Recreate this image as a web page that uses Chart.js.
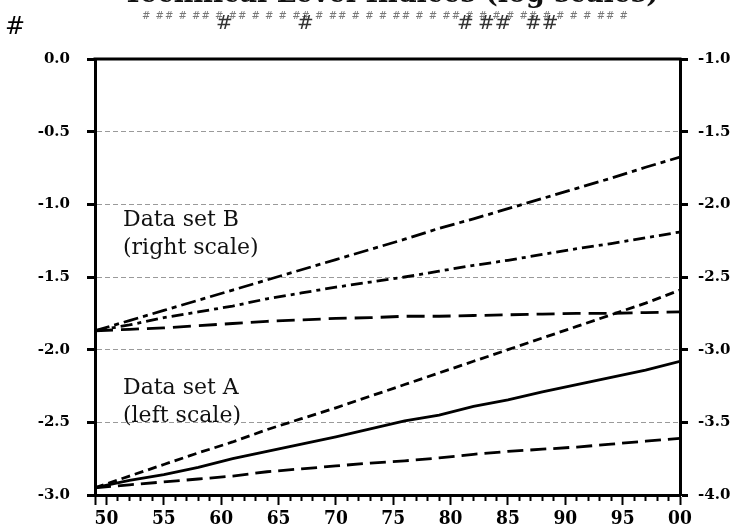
<!DOCTYPE html>
<html>
<head>
<meta charset="utf-8">
<script src="https://cdn.jsdelivr.net/npm/chart.js@4.4.1/dist/chart.umd.min.js"></script>
<style>
  html, body { margin: 0; padding: 0; background: #fff; }
  #wrap { position: relative; width: 732px; height: 530px; overflow: hidden; }
  #wrap canvas { position: absolute; left: 0; top: 0; }
  .title { position: absolute; left: 0; top: -23px; width: 782px; text-align: center;
           font: bold 27px 'DejaVu Serif'; color: #111; white-space: nowrap; }
  .hash-row { position: absolute; left: 142px; top: 10px; font: 10px 'DejaVu Sans'; color: #777;
              letter-spacing: 1px; white-space: nowrap; }
  .hash-big { position: absolute; font: 20px 'DejaVu Sans'; color: #333; }
  .note { position: absolute; left: 123px; font: 22px/28px 'DejaVu Serif'; color: #111; }
</style>
</head>
<body>
<div id="wrap">
  <canvas id="chart" width="732" height="530"></canvas>
  <div class="title">Technical Level Indices (log scales)</div>
  <div class="hash-row"># ## # ## #  ## # # #   ## # ## # # # ## # #  ## # # # # ## # # # # ## #</div>
  <div class="hash-big" style="left:5px;top:12px;font-size:24px;color:#000">#</div>
  <div class="hash-big" style="left:216px;top:10px">#</div>
  <div class="hash-big" style="left:297px;top:10px">#</div>
  <div class="hash-big" style="left:457px;top:10px">#</div>
  <div class="hash-big" style="left:478px;top:10px">##</div>
  <div class="hash-big" style="left:525px;top:10px">##</div>
  <div class="note" style="top:205px">Data set B<br>(right scale)</div>
  <div class="note" style="top:373px">Data set A<br>(left scale)</div>
</div>
<script>
// ── Data ─────────────────────────────────────────────────────────────────────

const YEARS = [1949, 1952, 1955, 1958, 1961, 1964, 1967, 1970, 1973, 1976, 1979, 1982, 1985, 1988, 1991, 1994, 1997, 2000];

// data set A, left scale
const A_SOLID = [-2.95, -2.90, -2.86, -2.81, -2.75, -2.70, -2.65, -2.60, -2.545, -2.49, -2.45, -2.39, -2.345, -2.29, -2.24, -2.19, -2.14, -2.08];
const A_SHORT = [-2.95, -2.87, -2.79, -2.71, -2.635, -2.55, -2.475, -2.40, -2.32, -2.24, -2.16, -2.08, -2.00, -1.92, -1.84, -1.76, -1.68, -1.59];
const A_LONG  = [-2.95, -2.93, -2.91, -2.89, -2.87, -2.84, -2.82, -2.80, -2.78, -2.765, -2.745, -2.72, -2.70, -2.685, -2.67, -2.65, -2.63, -2.61];

// data set B, right scale
const B_TOP  = [-2.87, -2.80, -2.73, -2.66, -2.59, -2.52, -2.45, -2.38, -2.31, -2.24, -2.165, -2.10, -2.03, -1.96, -1.89, -1.82, -1.745, -1.675];
const B_MID  = [-2.87, -2.83, -2.78, -2.74, -2.70, -2.65, -2.61, -2.57, -2.535, -2.50, -2.46, -2.42, -2.385, -2.345, -2.305, -2.27, -2.23, -2.19];
const B_FLAT = [-2.87, -2.86, -2.85, -2.835, -2.82, -2.805, -2.795, -2.785, -2.78, -2.77, -2.77, -2.765, -2.76, -2.755, -2.75, -2.75, -2.745, -2.74];

const X_MIN = 1949, X_MAX = 2000;
const LEFT_MIN = -3, LEFT_MAX = 0;
const RIGHT_MIN = -4, RIGHT_MAX = -1;
const Y_STEP = 0.5;

const SERIF = "'DejaVu Serif'";
const TICK_FONT = { family: SERIF, size: 15, weight: 'bold' };

function pts(vals) { return YEARS.map((y, i) => ({ x: y, y: vals[i] })); }
function yearLabel(v) { return String(v % 100).padStart(2, '0'); }

function line(vals, axis, dash) {
  return {
    data: pts(vals),
    yAxisID: axis,
    borderColor: '#000',
    borderWidth: 2.8,
    borderDash: dash,
    pointRadius: 0,
    tension: 0,
    fill: false,
  };
}

// top edge of the box (other three sides are axis borders)
const frameTop = {
  id: 'frameTop',
  afterDraw(chart) {
    const { ctx, chartArea: a } = chart;
    ctx.save();
    ctx.strokeStyle = '#000';
    ctx.lineWidth = 3;
    ctx.beginPath();
    ctx.moveTo(a.left - 1.5, a.top);
    ctx.lineTo(a.right + 1.5, a.top);
    ctx.stroke();
    ctx.restore();
  }
};

new Chart(document.getElementById('chart'), {
  type: 'line',
  data: {
    datasets: [
      line(A_SOLID, 'y', []),
      line(A_SHORT, 'y', [9, 5]),
      line(A_LONG, 'y', [16, 7]),
      line(B_TOP, 'y2', [15, 5, 5, 5]),
      line(B_MID, 'y2', [12, 5, 4, 5]),
      line(B_FLAT, 'y2', [18, 8]),
    ]
  },
  options: {
    responsive: false,
    animation: false,
    devicePixelRatio: 1,
    layout: { padding: { top: 59, left: 0, right: 0, bottom: 0 } },
    plugins: { legend: { display: false }, tooltip: { enabled: false } },
    scales: {
      x: {
        type: 'linear',
        min: X_MIN, max: X_MAX,
        afterFit(s) { s.height = 35; },
        ticks: {
          stepSize: 1,
          autoSkip: false,
          maxRotation: 0,
          padding: 3,
          color: '#000',
          font: { family: "'DejaVu Serif Condensed'", size: 19, weight: 'bold' },
          callback: v => (v % 5 === 0 ? yearLabel(v) : ''),
        },
        grid: {
          drawOnChartArea: false,
          tickLength: 10,
          tickColor: '#000',
          tickWidth: 2,
          tickBorderDash: c => (c.tick && (c.tick.value % 5 === 0 || c.tick.value === X_MIN) ? [] : [4, 40]),
        },
        border: { color: '#000', width: 3 },
      },
      y: {
        position: 'left',
        min: LEFT_MIN, max: LEFT_MAX,
        afterFit(s) { s.width = 95; },
        ticks: {
          stepSize: Y_STEP,
          padding: 17,
          color: '#000',
          font: TICK_FONT,
          callback: v => v.toFixed(1),
        },
        grid: {
          color: c => (c.tick && (c.tick.value === LEFT_MIN || c.tick.value === LEFT_MAX) ? 'rgba(0,0,0,0)' : '#9a9a9a'),
          lineWidth: 1,
          tickColor: '#000',
          tickWidth: 3,
          tickLength: 8,
        },
        border: { color: '#000', width: 3, dash: [5, 3] },
      },
      y2: {
        position: 'right',
        min: RIGHT_MIN, max: RIGHT_MAX,
        afterFit(s) { s.width = 52; },
        ticks: {
          stepSize: Y_STEP,
          padding: 10,
          color: '#000',
          font: TICK_FONT,
          callback: v => v.toFixed(1),
        },
        grid: {
          drawOnChartArea: false,
          tickColor: '#000',
          tickWidth: 3,
          tickLength: 8,
        },
        border: { color: '#000', width: 3 },
      },
    }
  },
  plugins: [frameTop],
});
</script>
</body>
</html>
